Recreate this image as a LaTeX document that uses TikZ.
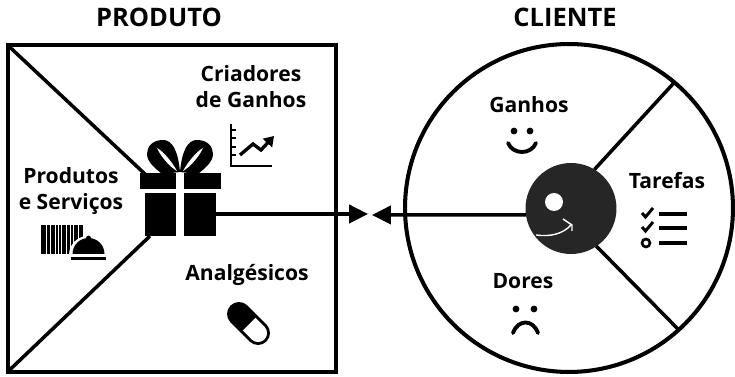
\documentclass[tikz,border=0pt]{standalone}
\usepackage{fontspec}
\setmainfont{Open Sans}
\usetikzlibrary{arrows.meta}
\usetikzlibrary{positioning}

\tikzset{
	borda/.style={draw=black, line width=2.3pt, outer sep=0pt, inner sep=0pt},
	raio/.style={black, line width=2pt},
	seta/.style={black, line width=2pt, -{Triangle[length=10.8pt, width=10.4pt]}},
	titulo/.style={font=\fontsize{14.5}{17}\bfseries\selectfont, text=black},
	rotulo/.style={font=\fontsize{12}{14.8}\bfseries\selectfont, align=center, text=black},
	icone/.style={black, line width=2.2pt},
}

\begin{document}
\begin{tikzpicture}[x=0.02cm, y=-0.02cm]
	\useasboundingbox (0,0) rectangle (735,377);

	\node (Produto) [borda, rectangle, minimum width=6.57cm, minimum height=6.54cm] at (171.75,208.5) { };
	\node (Cliente) [borda, circle, minimum size=6.56cm] at (569,208) { };

	\node (ProdutoNome) [titulo] at (159,17) {PRODUTO};
	\node (ClienteNome) [titulo] at (565,17) {CLIENTE};

	%Produto

	\node (Criadores) [rotulo] at (251,87) {Criadores\\de Ganhos};
	\node (Servicos) [rotulo] at (71,191) {Produtos\\e Serviços};
	\node (Analgesicos) [rotulo] at (247,275) {Analgésicos};

	\coordinate (DiagA) at (146,175);
	\coordinate (DiagB) at (150,236);
	\draw [raio] (Produto.north west) -- (DiagA);
	\draw [raio] (Produto.south west) -- (DiagB);

	%Presente

	\fill [black] (140,173) rectangle (176,189);
	\fill [black] (184,173) rectangle (221,189);
	\fill [black] (145,193) rectangle (176,236);
	\fill [black] (184,193) rectangle (216,236);
	\foreach \lado in {1,-1} {
		\begin{scope}[shift={(180,0)}, xscale=\lado]
			\fill [black] (0,172) .. controls (-2,150) and (-8,140) .. (-17,140) .. controls (-28,140) and (-33,147) .. (-33,154) .. controls (-33,162) and (-25,168) .. (-18,174) -- cycle;
			\fill [white] (-23,148) .. controls (-16,152) and (-8,162) .. (-3,171) .. controls (-10,167) and (-19,157) .. (-23,148) -- cycle;
		\end{scope}
	}

	%Grafico

	\draw [black, line width=1.5pt] (231,124) -- (231,166) -- (272,166);
	\foreach \marca in {130,138,147,155} {
		\draw [black, line width=1.1pt] (231,\marca) -- (236,\marca);
	}
	\draw [black, line width=1.9pt, -{Triangle[length=5.5pt, width=7pt]}] (240,155) -- (253,144) -- (261,150) -- (274,136);

	%Codigo de barras

	\foreach \barra/\largura in {41/4.5,47/2.5,50.5/4.5,56/2,59/2,62/3.5,67/3,71/2,74/3.5,78.5/2,81/2} {
		\fill [black] (\barra,225) rectangle ++(\largura,29);
	}
	\fill [white] (88,255) circle (19);
	\fill [black] (72.5,254) arc [start angle=180, end angle=360, radius=16] -- cycle;
	\fill [black] (88.5,238) circle (2.4);
	\fill [black] (71,257) rectangle (106,260);

	%Pilula

	\begin{scope}[shift={(248.5,323.5)}, rotate=-45]
		\draw [black, line width=13.6pt, line cap=round] (-13.5,0) -- (13.5,0);
		\fill [white] (1,-9) rectangle (13.5,9);
		\fill [white] (13.5,0) circle (9);
	\end{scope}

	%Cliente

	\node (Rosto) [circle, fill={rgb,255:red,38;green,38;blue,38}, minimum size=1.82cm, outer sep=0pt, inner sep=0pt] at (571,208.5) { };
	\node (Ganhos) [rotulo] at (529,105) {Ganhos};
	\node (Tarefas) [rotulo] at (667,181) {Tarefas};
	\node (Dores) [rotulo] at (523,281) {Dores};

	\draw [raio] (Rosto.59) -- (Cliente.50.7);
	\draw [raio] (Rosto.-56) -- (Cliente.-48.7);

	\fill [white] (554,202) circle (9);
	\draw [white, line width=0.8pt] (536,235) .. controls (550,237) and (563,234) .. (571,225);
	\draw [white, line width=0.8pt] (563,219) -- (572,225) -- (572,231);

	%Rostos

	\fill [black] (514,131) circle (3.4);
	\fill [black] (530,131) circle (3.4);
	\draw [icone, line cap=round] (508,143) .. controls (513,155) and (531,155) .. (536,143);

	\fill [black] (516,309) circle (3.4);
	\fill [black] (534,309) circle (3.4);
	\draw [icone, line cap=round] (513,333) .. controls (518,319) and (533,319) .. (538,333);

	%Lista

	\foreach \linha in {214,228,243} {
		\draw [black, line width=2.3pt] (659,\linha) -- (687,\linha);
	}
	\foreach \linha in {0,14} {
		\draw [black, line width=1.7pt] (642,213+\linha) -- (645.5,217+\linha) -- (653,208+\linha);
	}
	\draw [black, line width=1.5pt] (646,243) circle (4);

	%Setas

	\coordinate (GiftSaida) at (216,214);
	\coordinate (SetaProduto) at (368,214);
	\coordinate (SetaCliente) at (372,215);
	\draw [seta] (GiftSaida) -- (SetaProduto);
	\draw [seta] (Rosto.188) -- (SetaCliente);

\end{tikzpicture}
\end{document}
